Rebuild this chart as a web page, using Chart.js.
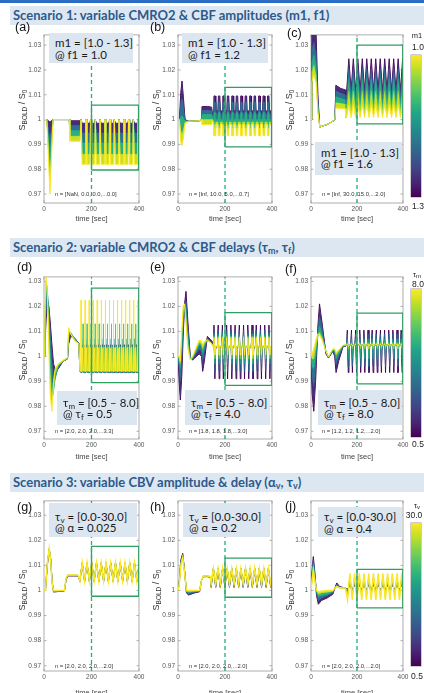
<!DOCTYPE html>
<html lang="en">
<head>
<meta charset="UTF-8">
<title>BOLD scenarios</title>
<script src="https://cdn.jsdelivr.net/npm/chart.js"></script>
<style>
  body { margin:0; width:424px; height:693px; position:relative; overflow:hidden; background:#fff; font-family:'Liberation Sans', Arial, sans-serif; }
  .abs { position:absolute; }
  .topline { left:0; top:0; width:424px; height:3px; background:#2b6cc4; }
  .hdr { left:10px; width:414px; height:19px; background:#dde7f2; color:#2c5a8c; font:bold 13px Lato, 'Noto Sans', sans-serif; line-height:19px; padding-left:3px; box-sizing:border-box; white-space:nowrap; }
  .hdr sub { font-size:9px; vertical-align:-2px; line-height:0; }
  .plab { font-size:12.5px; color:#111; transform:translateY(-50%); }
  .note { background:#dce6f1; font:11.5px Lato, 'Noto Sans', sans-serif; color:#1a1a1a; line-height:11.5px; padding-left:6px; box-sizing:border-box; white-space:nowrap; }
  .note sub { font-size:8px; vertical-align:-1.5px; line-height:0; }
  .ntext { font-size:5.8px; color:#333; white-space:nowrap; transform:translateY(-50%); }
  .ylab { font-size:9px; color:#333; white-space:nowrap; transform:translate(-50%,-50%) rotate(-90deg); }
  .ylab sub { font-size:6.5px; vertical-align:-1.5px; line-height:0; }
  .xlab { font-size:7.5px; color:#444; white-space:nowrap; transform:translate(-50%,-50%); }
  .cbar { left:411px; width:10px; box-shadow:0 0 0 0.5px #999;
    background:linear-gradient(to top, #440154 0%, #482475 10%, #414487 20%, #355f8d 30%, #2a788e 40%, #21918c 50%, #22a884 60%, #44bf70 70%, #7ad151 80%, #bddf26 90%, #fde725 100%); }
  .clab { transform:translate(-50%,-50%); white-space:nowrap; color:#222; font-size:8.5px; }
  .clab sub { font-size:6px; vertical-align:-1.5px; line-height:0; }
</style>
</head>
<body>
<div class="abs topline"></div>
<div class="abs hdr" style="top:6px">Scenario 1: variable CMRO2 &amp; CBF amplitudes (m1, f1)</div>
<div class="abs hdr" style="top:238px">Scenario 2: variable CMRO2 &amp; CBF delays (τ<sub>m</sub>, τ<sub>f</sub>)</div>
<div class="abs hdr" style="top:473px">Scenario 3: variable CBV amplitude &amp; delay (α<sub>v</sub>, τ<sub>v</sub>)</div>

<script>
// curves per panel run purple -> yellow (viridis)
const yTicks = [0.97, 0.98, 0.99, 1, 1.01, 1.02, 1.03];
const xTicks = [0, 200, 400];

// (a)
const tA = [0, 12, 25, 38, 106, 109, 152, 156];
const yA = [
  [1, 1, 0.999, 1, 1, 0.9995, 0.9995, 1],
  [1, 1, 0.992, 1, 1, 0.9975, 0.9975, 1],
  [1, 1, 0.985, 1, 1, 0.9955, 0.9955, 1],
  [1, 1, 0.977, 1, 1, 0.9933, 0.9933, 1],
  [1, 1, 0.970, 1, 1, 0.9913, 0.9913, 1]];
const cycA = [158, 178, 198, 218, 238, 258, 278, 298, 318, 338, 358, 378, 398];
const offA = [0, 2.5, 15.5, 18];
const levA = [
  [1, 0.9985, 0.9985, 1], [1, 0.9945, 0.9945, 1], [1, 0.9905, 0.9905, 1],
  [1, 0.986, 0.986, 1], [1, 0.982, 0.982, 1]];
const boxA = [200, 398, 0.9797, 1.0058];

// (b)
const tB = [0, 6, 12, 17, 23, 30, 45, 90, 99, 102, 125, 143, 148];
const yB = [
  [1, 1, 1.011, 1.0155, 1.009, 1.0, 0.9993, 0.9995, 1.0, 1.0052, 1.0053, 1.005, 1.0015],
  [1, 1, 1.006, 1.0085, 1.005, 0.9998, 0.9993, 0.9995, 1.0, 1.0036, 1.0037, 1.0035, 1.001],
  [1, 1, 1.001, 1.0015, 1.0005, 0.9995, 0.9993, 0.9995, 1.0, 1.002, 1.002, 1.002, 1.0005],
  [1, 1, 0.9955, 0.994, 0.996, 0.999, 0.9993, 0.9995, 1.0, 1.0, 1.0, 1.0, 1.0],
  [1, 1, 0.991, 0.9895, 0.9925, 0.9985, 0.9993, 0.9995, 1.0, 0.998, 0.998, 0.998, 0.9995]];
const cycB = [151, 170, 189, 208, 227, 246, 265, 284, 303, 322, 341, 360, 379, 398];
const offB = [0, 2, 8, 10];
const levB = [
  [1.0035, 1.0095, 1.0095, 1.0035], [1.002, 1.007, 1.007, 1.002], [1.0, 1.0028, 1.0028, 1.0],
  [0.999, 0.9965, 0.9965, 0.999], [0.998, 0.9935, 0.9935, 0.998]];
const boxB = [200, 398, 0.989, 1.013];

// (c)
const tC = [0, 4, 12, 22, 30, 38, 70, 98, 104, 108, 130, 148, 152];
const yC = [
  [1, 1.04, 1.045, 1.035, 1.01, 0.997, 0.998, 0.9995, 1.0, 1.0138, 1.0125, 1.012, 1.001],
  [1, 1.028, 1.031, 1.026, 1.007, 0.997, 0.998, 0.9995, 1.0, 1.0115, 1.0105, 1.010, 1.001],
  [1, 1.023, 1.026, 1.022, 1.005, 0.997, 0.998, 0.9995, 1.0, 1.0092, 1.0085, 1.008, 1.001],
  [1, 1.019, 1.022, 1.018, 1.004, 0.997, 0.998, 0.9995, 1.0, 1.0068, 1.0065, 1.0062, 1.001],
  [1, 1.015, 1.018, 1.015, 1.003, 0.997, 0.998, 0.9995, 1.0, 1.0047, 1.0045, 1.0045, 1.001]];
const cycC = [155, 174.5, 194, 213.5, 233, 252.5, 272, 291.5, 311, 330.5, 350, 369.5, 389];
const offC = [0, 9.5];
const levC = [[1.0115, 1.0245], [1.009, 1.0205], [1.006, 1.0165], [1.0035, 1.0115], [1.0008, 1.006]];
const boxC = [200, 399, 0.9983, 1.030];

// (d)
const tD = [0, 4, 9, 14, 20, 26, 33, 40, 47, 60, 80, 99, 104, 112, 130, 147, 151];
const yD = [
  [1, 1.005, 1.015, 1.02, 1.02, 1.014, 1.005, 0.997, 0.995, 0.995, 0.998, 0.999, 1.005, 1.008, 1.0072, 1.0052, 0.994],
  [1, 1.007, 1.019, 1.023, 1.02, 1.01, 0.998, 0.992, 0.992, 0.9955, 0.998, 0.999, 1.007, 1.009, 1.007, 1.005, 0.994],
  [1, 1.01, 1.024, 1.026, 1.018, 1.002, 0.99, 0.987, 0.991, 0.996, 0.998, 0.999, 1.0085, 1.0095, 1.007, 1.005, 0.994],
  [1, 1.014, 1.03, 1.027, 1.012, 0.993, 0.982, 0.986, 0.993, 0.9965, 0.998, 0.9993, 1.010, 1.0095, 1.0065, 1.005, 0.994],
  [1, 1.018, 1.033, 1.025, 1.004, 0.985, 0.978, 0.99, 0.995, 0.997, 0.9985, 0.9995, 1.0115, 1.009, 1.006, 1.005, 0.994]];
const cycD = [155, 172, 189, 206, 223, 240, 257, 274, 291, 308, 325, 342, 359, 376, 393];
const offD = [0, 1, 2.5, 8, 9.5];
const levD = [
  [0.9935, 1.0046, 1.0, 1.0046, 0.9935],
  [0.9935, 1.0045, 0.998, 1.0045, 0.9935],
  [0.9935, 1.007, 0.996, 1.0042, 0.9935],
  [0.994, 1.013, 0.995, 1.0038, 0.994],
  [0.9942, 1.0225, 0.994, 1.0035, 0.9942]];
const lagD = [4, 3, 2, 8.5, 0];
const boxD = [200, 399, 0.9895, 1.0273];

// (e)
const tE = [0, 6, 10, 16, 22, 28, 34, 42, 52, 62, 90, 100, 105, 112, 125, 145];
const yE = [
  [1, 0.988, 0.9825, 0.992, 1.008, 1.021, 1.026, 1.014, 1.0, 0.9985, 1.001, 1.0, 0.994, 0.998, 1.008, 1.006],
  [1, 0.994, 0.99, 0.999, 1.012, 1.021, 1.022, 1.011, 1.0, 0.999, 1.003, 1.002, 0.998, 1.002, 1.007, 1.005],
  [1, 0.997, 0.995, 1.003, 1.015, 1.021, 1.019, 1.008, 0.9995, 0.999, 1.0045, 1.004, 1.001, 1.004, 1.007, 1.005],
  [1, 0.999, 0.997, 1.007, 1.018, 1.021, 1.016, 1.005, 0.999, 0.9995, 1.0055, 1.005, 1.003, 1.005, 1.0065, 1.005],
  [1, 1.0, 0.998, 1.01, 1.02, 1.021, 1.013, 1.003, 0.9985, 1.0, 1.0065, 1.006, 1.0045, 1.006, 1.0065, 1.005]];
const cycE = [150, 168, 186, 204, 222, 240, 258, 276, 294, 312, 330, 348, 366, 384];
const offE = [0, 3, 7, 10];
const levE = [
  [1.004, 1.0125, 0.991, 1.003], [1.004, 1.0105, 0.994, 1.0035], [1.004, 1.009, 0.997, 1.004],
  [1.004, 1.008, 0.999, 1.004], [1.0035, 1.0075, 1.0005, 1.004]];
const boxE = [200, 399, 0.9884, 1.0175];

// (f)
const tF = [0, 5, 12, 20, 30, 37, 50, 65, 76, 95, 103, 109, 120, 140, 150];
const yF = [
  [1, 0.985, 0.978, 0.99, 1.012, 1.021, 1.012, 1.001, 0.9993, 1.002, 1.0, 0.9935, 0.998, 1.004, 1.004],
  [1, 0.992, 0.988, 0.996, 1.011, 1.016, 1.01, 1.0015, 0.9995, 1.002, 1.001, 0.997, 1.0, 1.004, 1.004],
  [1, 0.996, 0.995, 1.0, 1.009, 1.012, 1.008, 1.002, 0.9996, 1.0025, 1.002, 0.999, 1.001, 1.0042, 1.0044],
  [1, 0.999, 0.999, 1.003, 1.008, 1.0095, 1.007, 1.002, 0.9997, 1.0028, 1.0025, 1.0005, 1.002, 1.0044, 1.0045],
  [1, 1.001, 1.003, 1.006, 1.009, 1.0088, 1.006, 1.002, 0.9997, 1.003, 1.003, 1.0015, 1.0025, 1.0045, 1.0045]];
const cycF = [155, 173, 191, 209, 227, 245, 263, 281, 299, 317, 335, 353, 371, 389];
const offF = [0, 3, 7, 10];
const levF = [
  [1.0045, 1.0105, 0.9935, 1.004], [1.0045, 1.009, 0.996, 1.0045], [1.0045, 1.007, 0.999, 1.0045],
  [1.0045, 1.0055, 1.003, 1.0045], [1.0045, 1.0048, 1.0043, 1.0045]];
const boxF = [200, 399, 0.989, 1.0173];

// (g)
const tG = [0, 6, 14, 22, 28, 34, 40, 86, 93, 100, 141, 146];
const yG = [
  [1, 1.0, 1.010, 1.0164, 1.0128, 1.004, 0.9994, 0.9998, 1.0042, 1.0058, 1.0058, 1.0053],
  [1, 1.0, 1.0102, 1.0165, 1.0126, 1.0038, 0.9995, 0.9999, 1.0044, 1.0059, 1.0059, 1.0054],
  [1, 1.0, 1.0105, 1.0166, 1.0124, 1.0035, 0.9996, 0.9999, 1.0046, 1.006, 1.006, 1.0054],
  [1, 1.0, 1.0108, 1.0167, 1.0122, 1.0032, 0.9998, 1.0, 1.0048, 1.0061, 1.0061, 1.0055],
  [1, 1.0, 1.011, 1.0168, 1.012, 1.003, 1.0, 1.0, 1.005, 1.0062, 1.0062, 1.0055]];
const cycG = [151, 171, 191, 211, 231, 251, 271, 291, 311, 331, 351, 371, 391];
const offG = [0, 10];
const levG = [[1.0036, 1.0109], [1.0037, 1.011], [1.0037, 1.011], [1.0038, 1.011], [1.0038, 1.011]];
const boxG = [200, 399, 0.9977, 1.0176];

// (h)
const tH = [0, 5, 12, 20, 28, 36, 45, 70, 92, 100, 108, 128, 138];
const yH = [
  [1, 1.003, 1.012, 1.0148, 1.008, 0.999, 0.9982, 0.999, 0.9995, 1.004, 1.0055, 1.0055, 1.005],
  [1, 1.0028, 1.0115, 1.0144, 1.0078, 0.9993, 0.9987, 0.9993, 0.9997, 1.004, 1.0056, 1.0056, 1.005],
  [1, 1.0025, 1.011, 1.014, 1.0076, 0.9996, 0.9992, 0.9996, 0.9998, 1.004, 1.0057, 1.0057, 1.0052],
  [1, 1.0022, 1.0105, 1.0135, 1.0073, 0.9998, 0.9996, 0.9998, 1.0, 1.004, 1.0058, 1.0058, 1.0053],
  [1, 1.002, 1.010, 1.013, 1.007, 1.0, 1.0, 1.0, 1.0, 1.004, 1.0058, 1.0058, 1.0055]];
const cycH = [141, 160.5, 180, 199.5, 219, 238.5, 258, 277.5, 297, 316.5, 336, 355.5, 375, 394.5];
const offH = [0, 9.7];
const levH = [[1.0012, 1.0087], [1.0016, 1.0087], [1.002, 1.0088], [1.0023, 1.0088], [1.0026, 1.0088]];
const boxH = [200, 399, 0.9973, 1.0129];

// (j)
const tJ = [0, 5, 10, 16, 24, 32, 45, 70, 95, 104, 112, 125, 150];
const yJ = [
  [1, 1.008, 1.0135, 1.008, 0.998, 0.9945, 0.996, 0.997, 0.9985, 1.001, 1.003, 1.0015, 1.001],
  [1, 1.007, 1.012, 1.007, 0.999, 0.996, 0.997, 0.998, 0.999, 1.001, 1.0025, 1.0013, 1.001],
  [1, 1.006, 1.011, 1.006, 0.9995, 0.9975, 0.998, 0.9985, 0.9995, 1.001, 1.002, 1.0012, 1.001],
  [1, 1.005, 1.0095, 1.005, 1.0, 0.9985, 0.999, 0.9993, 0.9997, 1.001, 1.0018, 1.0011, 1.001],
  [1, 1.004, 1.008, 1.004, 1.0, 0.9995, 0.9997, 1.0, 1.0, 1.001, 1.0015, 1.001, 1.001]];
const cycJ = [159, 179.5, 200, 220.5, 241, 261.5, 282, 302.5, 323, 343.5, 364, 384.5];
const offJ = [0, 10];
const levJ = [[1.0005, 1.002], [0.9995, 1.003], [0.9985, 1.0045], [0.9975, 1.0058], [0.9962, 1.0068]];
const boxJ = [200, 399, 0.9931, 1.0084];

const nLabels = ['n = [NaN, 0.0, 0.0,...0.0]', 'n = [Inf, 10.0, 5.0,...0.7]', 'n = [Inf, 30.0, 15.0,...2.0]',
  'n = [2.0, 2.0, 2.0,...3.3]', 'n = [1.8, 1.8, 1.8,...3.0]', 'n = [1.2, 1.2, 1.2,...2.0]',
  'n = [2.0, 2.0, 2.0,...2.0]', 'n = [2.0, 2.0, 2.0,...2.0]', 'n = [2.0, 2.0, 2.0,...2.0]'];

// styles / layout
const curveColors = ['#440154', '#3b528b', '#21918c', '#5ec962', '#fde725'];
const bandColors = ['#472c7a', '#2c728e', '#29af7f', '#c8e020'];
const topWidth = [1, 1, 1.5];   // width of the last (yellow) curve per row
const rowTop = [32, 274, 498], rowBot = [203, 439, 671];
const rowY = [[0.9664, 1.0341], [0.9669, 1.0318], [0.9679, 1.0357]];
const colL = [44, 178, 311], colR = [139, 272, 403];
const tickFont = "'Liberation Sans', Arial, sans-serif";

const panels = [
  { k: 'a', row: 0, col: 0, t: tA, y: yA, cyc: cycA, off: offA, lev: levA, box: boxA,
    note: ['m1 = [1.0 - 1.3]', '@ f1 = 1.0'], nb: [49, 33, 84, 30, 4], lab: [15, 27] },
  { k: 'b', row: 0, col: 1, t: tB, y: yB, cyc: cycB, off: offB, lev: levB, box: boxB,
    note: ['m1 = [1.0 - 1.3]', '@ f1 = 1.2'], nb: [182, 33, 86, 30, 4], lab: [150, 27] },
  { k: 'c', row: 0, col: 2, t: tC, y: yC, cyc: cycC, off: offC, lev: levC, box: boxC,
    note: ['m1 = [1.0 - 1.3]', '@ f1 = 1.6'], nb: [315, 142, 87, 33, 4.5], lab: [287, 33] },
  { k: 'd', row: 1, col: 0, t: tD, y: yD, cyc: cycD, off: offD, lev: levD, box: boxD, lag: lagD,
    note: ['τ<sub>m</sub> = [0.5 – 8.0]', '@ τ<sub>f</sub> = 0.5'], nb: [57, 391, 80, 34, 5.5], lab: [17, 267] },
  { k: 'e', row: 1, col: 1, t: tE, y: yE, cyc: cycE, off: offE, lev: levE, box: boxE,
    note: ['τ<sub>m</sub> = [0.5 – 8.0]', '@ τ<sub>f</sub> = 4.0'], nb: [185, 390, 85, 35, 6.5], lab: [150, 267] },
  { k: 'f', row: 1, col: 2, t: tF, y: yF, cyc: cycF, off: offF, lev: levF, box: boxF,
    note: ['τ<sub>m</sub> = [0.5 – 8.0]', '@ τ<sub>f</sub> = 8.0'], nb: [318, 390, 84, 35, 6.5], lab: [285, 269] },
  { k: 'g', row: 2, col: 0, t: tG, y: yG, cyc: cycG, off: offG, lev: levG, box: boxG,
    note: ['τ<sub>v</sub> = [0.0-30.0]', '@ α = 0.025'], nb: [49, 503, 88, 34, 7.5], lab: [17, 507] },
  { k: 'h', row: 2, col: 1, t: tH, y: yH, cyc: cycH, off: offH, lev: levH, box: boxH,
    note: ['τ<sub>v</sub> = [0.0-30.0]', '@ α = 0.2'], nb: [183, 503, 87, 34, 7.5], lab: [150, 507] },
  { k: 'j', row: 2, col: 2, t: tJ, y: yJ, cyc: cycJ, off: offJ, lev: levJ, box: boxJ,
    note: ['τ<sub>v</sub> = [0.0-30.0]', '@ α = 0.4'], nb: [318, 507, 84, 30, 4], lab: [285, 506] }
];

function curve(p, i) {
  const pts = p.t.map((t, k) => ({ x: t, y: p.y[i][k] }));
  const lag = p.lag ? p.lag[i] : 0;
  p.cyc.forEach(c => p.off.forEach((o, k) => pts.push({ x: c + o + lag, y: p.lev[i][k] })));
  return pts;
}

const frame = {
  id: 'frame',
  beforeDatasetsDraw(chart) {
    const { ctx, chartArea: a, scales } = chart;
    ctx.save();
    ctx.strokeStyle = '#9a9a9a';
    ctx.lineWidth = 0.8;
    ctx.strokeRect(a.left, a.top, a.width, a.height);
    ctx.beginPath();
    scales.y.ticks.forEach(t => {
      const y = scales.y.getPixelForValue(t.value);
      ctx.moveTo(a.left, y); ctx.lineTo(a.left + 2.5, y);
      ctx.moveTo(a.right, y); ctx.lineTo(a.right - 2.5, y);
    });
    scales.x.ticks.forEach(t => {
      const x = scales.x.getPixelForValue(t.value);
      ctx.moveTo(x, a.bottom); ctx.lineTo(x, a.bottom - 2.5);
      ctx.moveTo(x, a.top); ctx.lineTo(x, a.top + 2.5);
    });
    ctx.stroke();
    ctx.restore();
  }
};

function el(cls, html, css) {
  const d = document.createElement('div');
  d.className = 'abs ' + cls;
  d.innerHTML = html;
  d.style.cssText = css;
  document.body.appendChild(d);
  return d;
}

// charts first, overlays after
panels.forEach(p => {
  const L = colL[p.col], R = colR[p.col], T = rowTop[p.row], B = rowBot[p.row];
  const [ymin, ymax] = rowY[p.row];
  const w = R - L + 35, h = B - T + 16;
  const cv = document.createElement('canvas');
  cv.width = w; cv.height = h;
  cv.style.cssText = `position:absolute;left:${L - 26}px;top:${T - 4}px;width:${w}px;height:${h}px`;
  document.body.appendChild(cv);

  const datasets = curveColors.map((col, i) => ({
    data: curve(p, i),
    borderColor: col,
    backgroundColor: i ? bandColors[i - 1] : 'transparent',
    fill: i ? '-1' : false,
    borderWidth: i === 4 ? topWidth[p.row] : 1,
    pointRadius: 0,
    tension: 0,
    order: 10 - i
  }));
  const [x0, x1, y0, y1] = p.box;
  datasets.push({
    data: [{ x: x0, y: y0 }, { x: x1, y: y0 }, { x: x1, y: y1 }, { x: x0, y: y1 }, { x: x0, y: y0 }],
    borderColor: '#2f9e63', borderWidth: 1.3, pointRadius: 0, fill: false, tension: 0, order: 1
  });
  datasets.push({
    data: [{ x: 200, y: ymin }, { x: 200, y: ymax }],
    borderColor: '#27ae79', borderWidth: 1.3, borderDash: [4, 3], pointRadius: 0, fill: false, order: 0
  });

  new Chart(cv, {
    type: 'line',
    data: { datasets },
    options: {
      responsive: false, animation: false, events: [],
      layout: { padding: { top: 4, right: 9, left: 0, bottom: 0 } },
      plugins: { legend: { display: false }, tooltip: { enabled: false } },
      scales: {
        x: {
          type: 'linear', min: 0, max: 400,
          grid: { display: false, drawTicks: false }, border: { display: false },
          afterBuildTicks: s => { s.ticks = xTicks.map(v => ({ value: v })); },
          afterFit: s => { s.height = 12; },
          ticks: { padding: 2, maxRotation: 0, autoSkip: false, color: '#555', font: { family: tickFont, size: 6.5 } }
        },
        y: {
          min: ymin, max: ymax,
          grid: { display: false, drawTicks: false }, border: { display: false },
          afterBuildTicks: s => { s.ticks = yTicks.map(v => ({ value: v })); },
          afterFit: s => { s.width = 26; },
          ticks: { padding: 3, autoSkip: false, color: '#555', font: { family: tickFont, size: 6.5 },
            callback: v => v === 1 ? '1' : v.toFixed(2) }
        }
      }
    },
    plugins: [frame]
  });
});

panels.forEach((p, idx) => {
  const L = colL[p.col], R = colR[p.col];
  const [nx, ny, nw, nh, pad] = p.nb;
  el('note', p.note.join('<br>'), `left:${nx}px;top:${ny}px;width:${nw}px;height:${nh}px;padding-top:${pad}px`);
  el('plab', '(' + p.k + ')', `left:${p.lab[0]}px;top:${p.lab[1]}px`);
  el('ntext', nLabels[idx], `left:${L + 11}px;top:${[194, 431, 666][p.row]}px`);
  el('ylab', 'S<sub>BOLD</sub> / S<sub>0</sub>', `left:${L - 22}px;top:${[110, 360, 590][p.row]}px`);
  el('xlab', 'time [sec]', `left:${(L + R) / 2}px;top:${[218, 456, 692][p.row]}px`);
});

// colorbars
el('clab', 'm1', 'left:417px;top:35px;font-size:7.5px');
el('clab', '1.0', 'left:418px;top:47px');
el('cbar', '', 'top:55px;height:142px');
el('clab', '1.3', 'left:418px;top:206px');
el('clab', 'τ<sub>m</sub>', 'left:417px;top:274px;font-size:7.5px');
el('clab', '8.0', 'left:418px;top:284px');
el('cbar', '', 'top:289px;height:148px');
el('clab', '0.5', 'left:418px;top:444px');
el('clab', 'τ<sub>v</sub>', 'left:417px;top:505px;font-size:7.5px');
el('clab', '30.0', 'left:414px;top:515px');
el('cbar', '', 'top:523px;height:143px');
el('clab', '0.5', 'left:417px;top:676px');
</script>
</body>
</html>
